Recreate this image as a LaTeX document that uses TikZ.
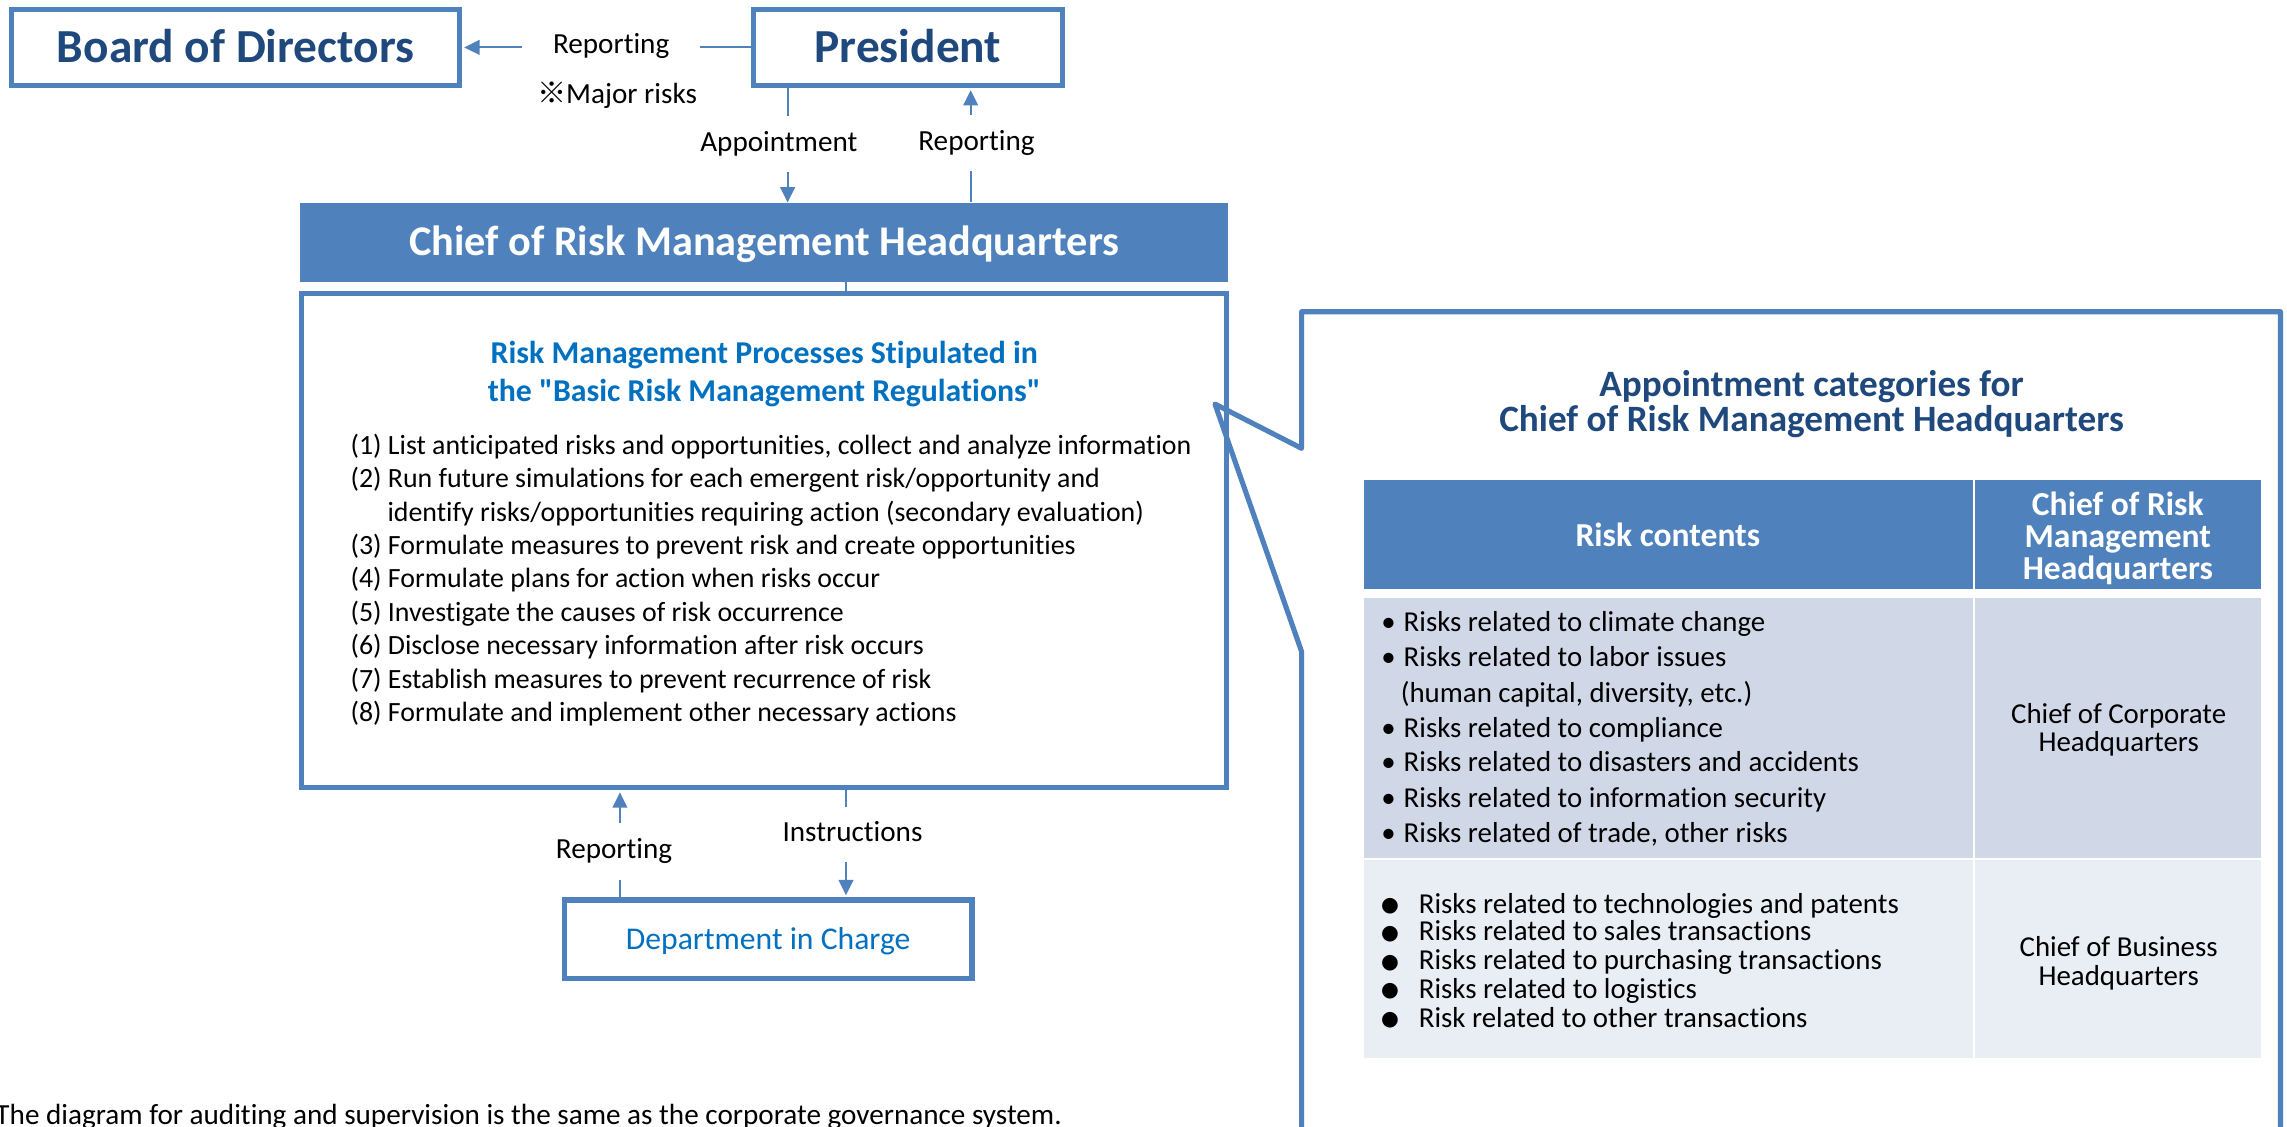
\documentclass[tikz,border=0pt]{standalone}
\usepackage{fontspec}
\setmainfont{Carlito}[Ligatures=CommonOff]
\newfontfamily\cjk{Noto Sans CJK JP}
\newfontfamily\dejavu{DejaVu Sans}
\newcommand\dq{\XeTeXglyph\XeTeXcharglyph"22\relax}
\usetikzlibrary{arrows.meta}
\definecolor{bcol}{HTML}{4F81BD}
\definecolor{dblue}{HTML}{1F497D}
\definecolor{hblue}{HTML}{0070C0}
\definecolor{rowa}{HTML}{D0D8E8}
\definecolor{rowb}{HTML}{E9EDF4}
\begin{document}
\begin{tikzpicture}[x=1pt,y=-1pt,
  box/.style={draw=bcol,line width=3.5pt,inner sep=0pt,fill=white},
  conn/.style={draw=bcol,line width=1.4pt},
  tip/.style={-{Triangle[length=10.5pt,width=10pt]}},
  lbl/.style={fill=white,inner xsep=1pt,inner ysep=0pt,text height=14pt,text depth=4pt,font=\fontsize{20}{24}\selectfont},
  body/.style={anchor=base west,inner sep=0pt,font=\fontsize{19.1}{23}\selectfont},
  cell/.style={inner sep=0pt,anchor=north west,minimum width=#1},
  tb/.style={anchor=base west,inner sep=0pt,font=\fontsize{19.8}{24}\selectfont},
  tbc/.style={anchor=base,inner sep=0pt,font=\fontsize{19.8}{24}\selectfont},
  hd/.style={anchor=base,inner sep=0pt,text=white,font=\bfseries\fontsize{23}{27}\selectfont},
  dot/.style={anchor=base,inner sep=0pt,font=\fontsize{19.8}{24}\selectfont},
  bigdot/.style={anchor=base,inner sep=0pt,font=\dejavu\fontsize{14}{24}\selectfont}
]
\clip (0,0) rectangle (1568,772);
\fill[white] (0,0) rectangle (1568,772);

% ---- top boxes
\node[box,minimum width=307pt,minimum height=52pt,text=dblue,
  font=\bfseries\fontsize{32.5}{38}\selectfont,text height=20.5pt,text depth=0pt] (board) at (161.5,32.5) {Board of Directors};
\node[box,minimum width=212pt,minimum height=52pt,text=dblue,
  font=\bfseries\fontsize{32.5}{38}\selectfont,text height=20.5pt,text depth=0pt] (pres) at (622.5,32.5) {President};
\node[fill=bcol,inner sep=0pt,minimum width=636pt,minimum height=54pt,text=white,
  font=\bfseries\fontsize{29}{34}\selectfont,text height=18.3pt,text depth=0pt] (chief) at (524,166) {Chief of Risk Management Headquarters};
\node[box,minimum width=634pt,minimum height=339pt] (proc) at (524,370.5) {};
\node[box,minimum width=279.4pt,minimum height=53.7pt,text=hblue,
  font=\fontsize{21.7}{26}\selectfont,text height=13.7pt,text depth=0pt] (dept) at (526.7,643.9) {Department in Charge};

% ---- connectors
\coordinate (xA) at (540,0);
\coordinate (xR) at (665.5,0);
\coordinate (xL) at (425,0);
\coordinate (xI) at (580,0);
\draw[conn,tip,shorten >=1.5pt] (pres.west) -- (board.east);
\draw[conn,tip] (pres.south -| xA) -- (chief.north -| xA);
\draw[conn,tip,shorten >=1.5pt] (chief.north -| xR) -- (pres.south -| xR);
\draw[conn] (chief.south -| xI) -- (proc.north -| xI);
\draw[conn,tip,shorten >=1.5pt] (dept.north -| xL) -- (proc.south -| xL);
\draw[conn,tip,shorten >=1.5pt] (proc.south -| xI) -- (dept.north -| xI);

% ---- connector labels
\node[lbl,minimum width=122pt] (rep1) at (419,32) {Reporting};
\node[anchor=base,inner sep=0pt,font=\fontsize{20}{24}\selectfont] (major) at (423,71) {{\cjk ※}Major risks};
\node[lbl,minimum height=38.2pt] (appt) at (534,98.6) {Appointment};
\node[lbl,minimum height=38.4pt] (rep2) at (669.5,98) {Reporting};
\node[lbl,minimum height=38.8pt] (rep3) at (421,583.9) {Reporting};
\node[lbl,minimum height=37.7pt] (instr) at (584.5,571.9) {Instructions};

% ---- process box content
\node[anchor=base,inner sep=0pt,text=hblue,font=\bfseries\fontsize{21.8}{26}\selectfont] (hd1) at (524,249.5) {Risk Management Processes Stipulated in};
\node[anchor=base,inner sep=0pt,text=hblue,font=\bfseries\fontsize{21.8}{26}\selectfont] (hd2) at (524,275.3) {the \dq Basic Risk Management Regulations\dq};
\node[body] (l1) at (240.2,311.5) {(1) List anticipated risks and opportunities, collect and analyze information};
\node[body] (l2) at (240.2,334.4) {(2) Run future simulations for each emergent risk/opportunity and};
\node[body] (l2b) at (265.5,357.3) {identify risks/opportunities requiring action (secondary evaluation)};
\node[body] (l3) at (240.2,380.2) {(3) Formulate measures to prevent risk and create opportunities};
\node[body] (l4) at (240.2,403.1) {(4) Formulate plans for action when risks occur};
\node[body] (l5) at (240.2,426.0) {(5) Investigate the causes of risk occurrence};
\node[body] (l6) at (240.2,448.9) {(6) Disclose necessary information after risk occurs};
\node[body] (l7) at (240.2,471.8) {(7) Establish measures to prevent recurrence of risk};
\node[body] (l8) at (240.2,494.7) {(8) Formulate and implement other necessary actions};

% ---- footer
\node[anchor=base west,inner sep=0pt,font=\fontsize{20}{24}\selectfont] (foot) at (-3.3,771) {The diagram for auditing and supervision is the same as the corporate governance system.};

% ---- callout
\draw[draw=bcol,line width=3.5pt,line join=round] (1563.5,800) -- (1563.5,213.7) -- (892.4,213.7) -- (892.4,307.4) -- (833,277) -- (892.4,446.8) -- (892.4,800);
\node[anchor=base,inner sep=0pt,text=dblue,font=\bfseries\fontsize{25.5}{30}\selectfont] (t1) at (1242,272) {Appointment categories for};
\node[anchor=base,inner sep=0pt,text=dblue,font=\bfseries\fontsize{25.5}{30}\selectfont] (t2) at (1242,296) {Chief of Risk Management Headquarters};

% ---- table
\node[cell=417.4pt,fill=bcol,minimum height=75.2pt] (ha) at (934.8,328.6) {};
\node[cell=196pt,fill=bcol,minimum height=75.2pt] (hb) at (1354,328.6) {};
\node[cell=417.4pt,fill=rowa,minimum height=178.5pt] (ra) at (934.8,409.5) {};
\node[cell=196pt,fill=rowa,minimum height=178.5pt] (rb) at (1354,409.5) {};
\node[cell=417.4pt,fill=rowb,minimum height=135.8pt] (sa) at (934.8,589.6) {};
\node[cell=196pt,fill=rowb,minimum height=135.8pt] (sb) at (1354,589.6) {};

\node[hd] (hrisk) at (1143.5,375) {Risk contents};
\node[hd] (hc1) at (1452,353.3) {Chief of Risk};
\node[hd] (hc2) at (1452,375.5) {Management};
\node[hd] (hc3) at (1452,397.4) {Headquarters};

\node[dot] (d1) at (952,433) {•};
\node[tb] (a1) at (962.2,433) {Risks related to climate change};
\node[dot] (d2) at (952,456.9) {•};
\node[tb] (a2) at (962.2,456.9) {Risks related to labor issues};
\node[tb] (a2b) at (960.2,481.5) {(human capital, diversity, etc.)};
\node[dot] (d3) at (952,505.4) {•};
\node[tb] (a3) at (962.2,505.4) {Risks related to compliance};
\node[dot] (d4) at (952,529.2) {•};
\node[tb] (a4) at (962.2,529.2) {Risks related to disasters and accidents};
\node[dot] (d5) at (952,553.8) {•};
\node[tb] (a5) at (962.2,553.8) {Risks related to information security};
\node[dot] (d6) at (952,577.8) {•};
\node[tb] (a6) at (962.2,577.8) {Risks related of trade, other risks};
\node[tbc] (c1) at (1452.6,495.8) {Chief of Corporate};
\node[tbc] (c2) at (1452.6,514.9) {Headquarters};

\node[bigdot] (e1) at (953,625) {●};
\node[tb] (b1) at (972.6,626) {Risks related to technologies and patents};
\node[bigdot] (e2) at (953,644.1) {●};
\node[tb] (b2) at (972.6,645.1) {Risks related to sales transactions};
\node[bigdot] (e3) at (953,663.7) {●};
\node[tb] (b3) at (972.6,664.7) {Risks related to purchasing transactions};
\node[bigdot] (e4) at (953,683.5) {●};
\node[tb] (b4) at (972.6,684.5) {Risks related to logistics};
\node[bigdot] (e5) at (953,703.3) {●};
\node[tb] (b5) at (972.6,704.3) {Risk related to other transactions};
\node[tbc] (c3) at (1452.6,655.9) {Chief of Business};
\node[tbc] (c4) at (1452.6,675.7) {Headquarters};
\end{tikzpicture}
\end{document}
